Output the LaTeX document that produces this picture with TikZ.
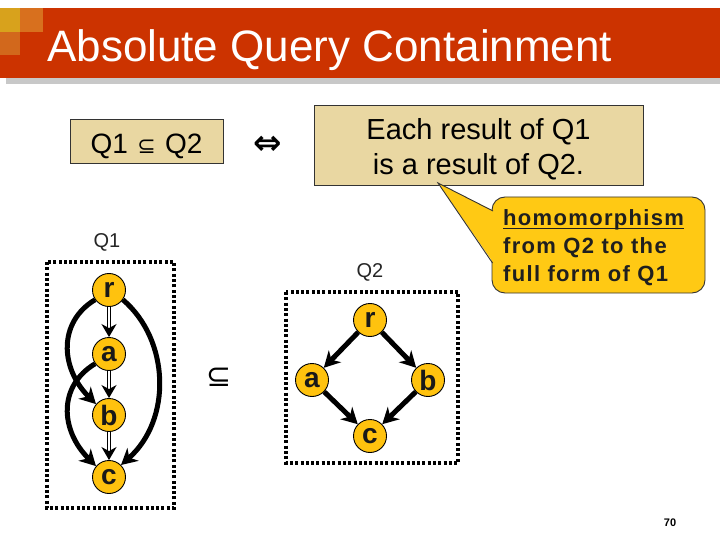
\documentclass[tikz,border=0pt]{standalone}
\usepackage{fontspec}
\setmainfont{Liberation Sans}
\newfontfamily\symf{DejaVu Sans}
\newfontfamily\callf[LetterSpace=6]{Liberation Sans}
\usetikzlibrary{arrows.meta}
\definecolor{barred}{HTML}{CC3300}
\definecolor{sqgold}{HTML}{D8A21C}
\definecolor{sqorA}{HTML}{D8701E}
\definecolor{sqorB}{HTML}{D2681C}
\definecolor{shadowgray}{HTML}{C8C8C8}
\definecolor{tanbox}{HTML}{E9D7A2}
\definecolor{callyellow}{HTML}{FFC914}
\definecolor{nodegold}{HTML}{FFC20E}
\newcommand\myul[1]{\setbox0\hbox{#1}\rlap{\rule[-3.5bp]{\wd0}{1.6bp}}\box0}
\begin{document}
\begin{tikzpicture}[x=1bp,y=-1bp,
  vtx/.style={circle, draw=black, line width=0.9bp, fill=nodegold, minimum size=33bp,
    inner sep=0pt, font=\fontsize{28bp}{28bp}\selectfont\bfseries, text=black!90},
  thickedge/.style={line width=5bp, -{Stealth[length=16bp,width=17bp,inset=5bp]}},
  dbledge/.style={draw=black, line width=1.7bp, double=white, double distance=1.3bp,
    -{Stealth[length=13bp,width=15bp,inset=4bp]}},
  dotbox/.style={draw=black, line width=3.2bp, dash pattern=on 3bp off 2.3bp},
  tanstyle/.style={draw=black!80, line width=0.8bp, fill=tanbox, inner sep=0pt},
  lbl/.style={font=\fontsize{20bp}{20bp}\selectfont, text=black!85}
]
\useasboundingbox (0,0) rectangle (720,540);
\fill[white] (0,0) rectangle (720,540);

% title bar
\fill[shadowgray] (6,78) rectangle (720,84);
\fill[barred] (0,8) rectangle (720,78);
\fill[sqgold] (0,8) rectangle (20,32);
\fill[sqorA] (20,8) rectangle (43,32);
\fill[sqorB] (0,32) rectangle (20,55);
\node[anchor=base west, inner sep=0pt, text=white, font=\fontsize{44bp}{44bp}\selectfont] (title) at (47,62) {Absolute Query Containment};

% top boxes
\node[tanstyle, minimum width=153bp, minimum height=44bp] (def) at (146.5,141) {};
\node[anchor=base, inner sep=0pt, font=\fontsize{28bp}{28bp}\selectfont] (deftext) at (146.5,154) {Q1\,\,{\symf\fontsize{22bp}{22bp}\selectfont ⊆}\,\,Q2};
\node[font=\symf\bfseries\fontsize{34bp}{34bp}\selectfont, inner sep=0pt] (iff) at (268,145) {⇔};
\node[tanstyle, minimum width=329bp, minimum height=80bp] (res) at (478.5,145) {};
\node[anchor=base, inner sep=0pt, font=\fontsize{29bp}{29bp}\selectfont] (resA) at (478.5,140) {Each result of Q1};
\node[anchor=base, inner sep=0pt, font=\fontsize{29bp}{29bp}\selectfont] (resB) at (478.5,175) {is a result of Q2.};

% callout
\node[draw=black!80, line width=0.9bp, fill=callyellow, rounded corners=13bp,
  minimum width=213bp, minimum height=96bp] (call) at (598.5,245) {};
\coordinate (tip) at (438,183);
\fill[callyellow] (tip) -- (493.5,211) -- (493.5,263) -- cycle;
\draw[black!80, line width=0.9bp] (493,211) -- (tip) -- (492.5,263);
\node[anchor=base west, inner sep=0pt, text=black!88, font=\callf\bfseries\fontsize{22bp}{22bp}\selectfont] (cA) at (503,226) {\myul{homomorphism}};
\node[anchor=base west, inner sep=0pt, text=black!88, font=\callf\bfseries\fontsize{22bp}{22bp}\selectfont] (cB) at (503,254) {from Q2 to the};
\node[anchor=base west, inner sep=0pt, text=black!88, font=\callf\bfseries\fontsize{22bp}{22bp}\selectfont] (cC) at (503,282) {full form of Q1};

% Q1
\node[lbl] (q1l) at (107,242) {Q1};
\draw[dotbox] (47,262) rectangle (174,508);
\node[vtx] (r1) at (109,290) {r};
\node[vtx] (a1) at (109,354) {a};
\node[vtx] (b1) at (109,415) {b};
\node[vtx] (c1) at (109,477) {c};
\draw[dbledge] (r1) -- (a1);
\draw[dbledge] (a1) -- (b1);
\draw[dbledge] (b1) -- (c1);
\draw[thickedge] (r1.215) .. controls (58,322) and (60,368) .. (b1.140);
\draw[thickedge] (a1.215) .. controls (58,386) and (60,430) .. (c1.140);
\draw[thickedge] (r1.-35) .. controls (170,340) and (172,420) .. (c1.45);

% subset symbol
\node[font=\symf\fontsize{30bp}{30bp}\selectfont, inner sep=0pt] (sub) at (219,377) {⊆};

% Q2
\node[lbl] (q2l) at (370,272) {Q2};
\draw[dotbox] (286,292) rectangle (458,463);
\node[vtx] (r2) at (370,320) {r};
\node[vtx] (a2) at (312,380) {a};
\node[vtx] (b2) at (428,380) {b};
\node[vtx] (c2) at (370,436) {c};
\draw[thickedge] (r2) -- (a2);
\draw[thickedge] (r2) -- (b2);
\draw[thickedge] (a2) -- (c2);
\draw[thickedge] (b2) -- (c2);

% page number
\node[font=\bfseries\fontsize{11bp}{11bp}\selectfont] (pg) at (670,523) {70};
\end{tikzpicture}
\end{document}
